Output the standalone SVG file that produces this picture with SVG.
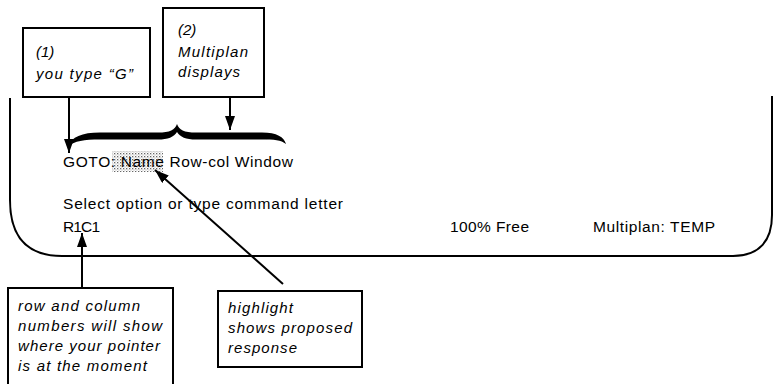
<svg xmlns="http://www.w3.org/2000/svg" width="774" height="384" viewBox="0 0 774 384">
<style>
.box{fill:#fff;stroke:#000;stroke-width:2}
.line{fill:none;stroke:#000;stroke-width:2}
.scr{font-family:"Liberation Sans",Arial,sans-serif;font-size:15.5px;fill:#000}
.note{font-family:"Liberation Sans",Arial,sans-serif;font-size:15px;font-style:italic;fill:#000}
</style>
<defs>
<marker id="ahL" viewBox="0 0 10 10" refX="10" refY="5" markerWidth="14" markerHeight="10" markerUnits="userSpaceOnUse" orient="auto" preserveAspectRatio="none">
<path d="M0,0 L10,5 L0,10 Z" fill="#000"/>
</marker>
<pattern id="dots" width="3" height="3" patternUnits="userSpaceOnUse">
<rect x="0" y="0" width="1.3" height="1.3" fill="#666"/>
<rect x="1.5" y="1.5" width="1" height="1" fill="#999"/>
</pattern>
</defs>

<g id="screen">
<path class="line" d="M10,98 L10,200 C10,235 25,256 62,256 L733,256 C760,256 772,240 772,215 L772,96" stroke-width="2.2"/>
<rect x="112" y="151" width="51" height="21" fill="url(#dots)"/>
<text class="scr" x="63" y="167" textLength="230" lengthAdjust="spacing">GOTO: Name Row-col Window</text>
<text class="scr" x="63" y="209" textLength="280" lengthAdjust="spacing">Select option or type command letter</text>
<text class="scr" x="63" y="232" textLength="37" lengthAdjust="spacing">R1C1</text>
<text class="scr" x="450" y="232" textLength="79" lengthAdjust="spacing">100% Free</text>
<text class="scr" x="593" y="232" textLength="122" lengthAdjust="spacing">Multiplan: TEMP</text>
</g>

<g id="brace">
<path d="M69,146 C71,137 82,132.5 100,132.5 L158,132.5 C170,132.5 175,130 177,124 C179,130 184,132.5 196,132.5 L262,132.5 C277,132.5 284,137 286,144 C281,140 274,139.5 262,139.5 L196,139.5 C186,139.5 180,137 177,132 C174,137 168,139.5 158,139.5 L100,139.5 C84,139.5 74,141 69,146 Z" fill="#000"/>
</g>

<g id="n1">
<rect class="box" x="23" y="28" width="127" height="69"/>
<text class="note" x="36" y="57">(1)</text>
<text class="note" x="36" y="79" textLength="97" lengthAdjust="spacing">you type “G”</text>
</g>

<g id="n2">
<rect class="box" x="163" y="8" width="101" height="89"/>
<text class="note" x="178" y="35">(2)</text>
<text class="note" x="178" y="57" textLength="70" lengthAdjust="spacing">Multiplan</text>
<text class="note" x="178" y="77" textLength="62" lengthAdjust="spacing">displays</text>
</g>

<g id="n3">
<rect class="box" x="8" y="288" width="165" height="120"/>
<text class="note" x="18" y="311" textLength="122" lengthAdjust="spacing">row and column</text>
<text class="note" x="18" y="331" textLength="144" lengthAdjust="spacing">numbers will show</text>
<text class="note" x="18" y="351" textLength="142" lengthAdjust="spacing">where your pointer</text>
<text class="note" x="18" y="371" textLength="129" lengthAdjust="spacing">is at the moment</text>
</g>

<g id="n4">
<rect class="box" x="218" y="291" width="144" height="76"/>
<text class="note" x="228" y="313" textLength="65" lengthAdjust="spacing">highlight</text>
<text class="note" x="228" y="333" textLength="124" lengthAdjust="spacing">shows proposed</text>
<text class="note" x="228" y="353" textLength="69" lengthAdjust="spacing">response</text>
</g>

<g id="connectors">
<line class="line" x1="69" y1="97" x2="69" y2="153" marker-end="url(#ahL)"/>
<line class="line" x1="230" y1="97" x2="230" y2="130" marker-end="url(#ahL)"/>
<line class="line" x1="82" y1="288" x2="82" y2="233" stroke-width="2.5" marker-end="url(#ahL)"/>
<line class="line" x1="283" y1="284" x2="155" y2="170" stroke-width="2.5" marker-end="url(#ahL)"/>
</g>
</svg>
